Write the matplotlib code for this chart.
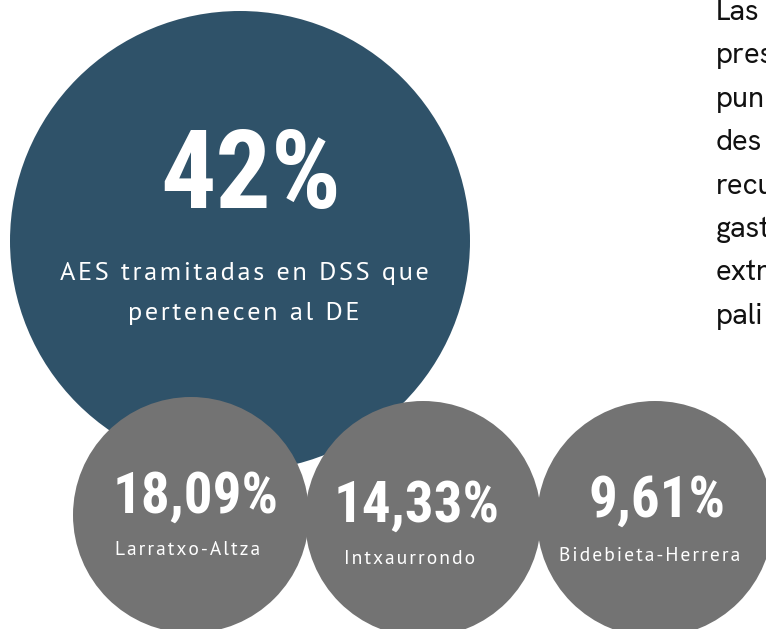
import matplotlib.pyplot as plt
from matplotlib.patches import Circle

# main figure
main_value = "42%"
main_label = ["AES tramitadas en DSS que", "pertenecen al DE"]

# districts
district_values = ["18,09%", "14,33%", "9,61%"]
district_names = ["Larratxo-Altza", "Intxaurrondo", "Bidebieta-Herrera"]

# side text (only the part that shows before the right edge)
side_lines = ["Las", "pres", "pun", "des", "recu", "gast", "extr", "pali"]

W, H = 766, 629
fig = plt.figure(figsize=(W / 100, H / 100), dpi=100)
ax = fig.add_axes([0, 0, 1, 1])
ax.set_xlim(0, W)
ax.set_ylim(H, 0)
ax.axis("off")

blue = "#2f5269"
grey = "#737373"

num_font = ["Roboto Condensed", "DejaVu Sans"]
lab_font = ["PT Sans", "DejaVu Sans"]


def spaced(s):
    # fake letter spacing with hair spaces
    return "\u200a".join(s)


# big circle
ax.add_patch(Circle((240, 241), 230, color=blue, lw=0, zorder=1))
ax.text(251, 208, main_value, color="white", fontsize=79, fontweight="bold",
        family=num_font, ha="center", va="baseline", zorder=5)
for i, line in enumerate(main_label):
    ax.text(244, 280 + i * 40, spaced(line), color="white", fontsize=19,
            family=lab_font, ha="center", va="baseline", zorder=5)

# district circles
centers = [(191, 515), (423, 519), (655, 519)]
num_base = [513, 522, 517]
num_x = [196, 417, 657]
lab_base = [555, 564, 561]
lab_x = [188, 410, 650]
for (cx, cy), val, name, nx, ny, lx, ly in zip(centers, district_values, district_names,
                                               num_x, num_base, lab_x, lab_base):
    ax.add_patch(Circle((cx, cy), 118, color=grey, lw=0, zorder=2))
    ax.text(nx, ny, val, color="white", fontsize=41, fontweight="bold",
            family=num_font, ha="center", va="baseline", zorder=5)
    ax.text(lx, ly, spaced(name), color="white", fontsize=14,
            family=lab_font, ha="center", va="baseline", zorder=5)

# side paragraph
for i, line in enumerate(side_lines):
    ax.text(716, 20 + i * 43.4, line, color="#111111", fontsize=21,
            fontweight="bold" if i == 0 else "normal",
            family=["Hanken Grotesk", "DejaVu Sans"],
            ha="left", va="baseline", zorder=5)

fig.savefig("out.png", dpi=100)
